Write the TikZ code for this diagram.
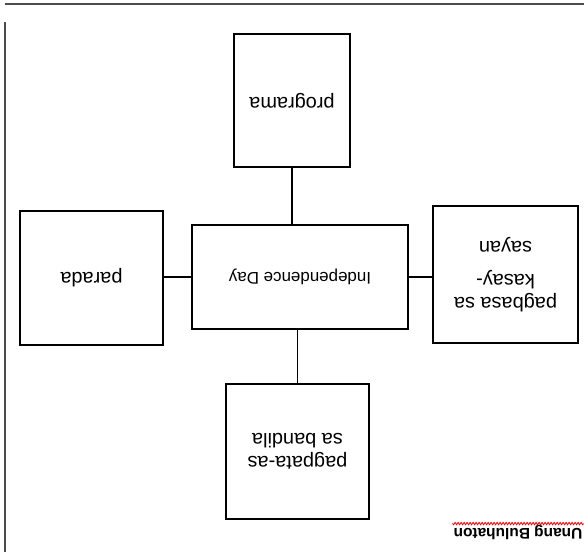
\documentclass[tikz,border=0pt]{standalone}
\usepackage{fontspec}
\setmainfont{Liberation Sans}
\usepackage{tikz}
\usetikzlibrary{shapes,arrows,calc,positioning,decorations.pathmorphing}
\tikzset{box/.style={draw, rectangle, line width=1.7bp, align=center, inner sep=2pt, font=\fontsize{20}{23}\selectfont}}
\tikzstyle{link}=[line width=1.5bp]

\begin{document}
\begin{tikzpicture}[x=1bp, y=1bp]
\useasboundingbox (0,0) rectangle (584,552);
% the sheet was scanned upside down
\begin{scope}[rotate around={180:(292,276)}, transform shape]
\draw[line width=1.3bp, black!70] (0,4) -- (579,4);
\draw[line width=1.3bp, black!70] (579,22) -- (579,552);
\node[box, minimum width=216bp, minimum height=104bp, font=\fontsize{17}{20}\selectfont] (B0) at (284,277) {Independence Day};
\node[box, minimum width=116bp, minimum height=133bp] (B1) at (292,100.5) {programa};
\node[box, minimum width=143bp, minimum height=134bp] (B2) at (492.5,278) {parada};
\node[box, minimum width=145bp, minimum height=137bp] (B3) at (78.5,274.5) {pagbasa sa\\kasay-\\[10bp]sayan};
\node[box, minimum width=143bp, minimum height=135bp] (B4) at (286.5,451.5) {pagpata-as\\sa bandila};
\path[link] (B1.north) edge (B1.north |- B0.south)
	(B0.east) edge (B0.east -| B2.west)
	(B0.west) edge (B0.west -| B3.east)
	(B4.south) edge (B4.south |- B0.north);
\node[font=\bfseries\fontsize{15.5}{18}\selectfont, inner sep=1bp] (T0) at (66,532) {Unang Buluhaton};
\draw[red, line width=0.8bp, decorate, decoration={snake, amplitude=1.2bp, segment length=3bp}] (T0.south west) -- (T0.south east);
\end{scope}
\end{tikzpicture}
\end{document}
